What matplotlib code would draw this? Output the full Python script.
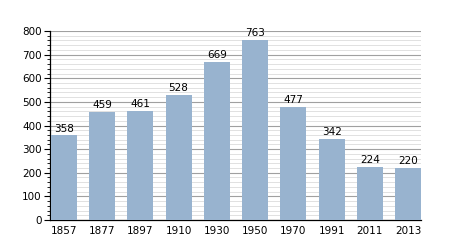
import numpy as np
import matplotlib
matplotlib.use("Agg")
import matplotlib.pyplot as plt
from matplotlib.ticker import MultipleLocator

years = ["1857", "1877", "1897", "1910", "1930", "1950", "1970", "1991", "2011", "2013"]
population = [358, 459, 461, 528, 669, 763, 477, 342, 224, 220]

fig = plt.figure(figsize=(4.5, 2.5), dpi=100)
ax = fig.add_axes([0.111, 0.12, 0.825, 0.756])

x = np.arange(len(years))
bar_w = 0.68
ax.bar(x, population, bar_w, color="#98b3cf", zorder=3)

for xi, v in zip(x, population):
    ax.text(xi, v + 8, str(v), ha="center", va="bottom", fontsize=7.5, zorder=4)

ax.set_xlim(-bar_w / 2 - 0.02, len(years) - 1 + bar_w / 2)
ax.set_ylim(0, 800)
ax.yaxis.set_major_locator(MultipleLocator(100))
ax.yaxis.set_minor_locator(MultipleLocator(20))
ax.grid(True, which="major", axis="y", color="#a0a0a0", linewidth=0.8, zorder=1)
ax.grid(True, which="minor", axis="y", color="#dcdcdc", linewidth=0.6, zorder=0)

ax.set_xticks(x)
ax.set_xticklabels(years, fontsize=7.5)
ax.tick_params(axis="x", length=0, pad=4)
ax.tick_params(axis="y", which="major", length=4, width=0.8, labelsize=7.5, pad=2)
ax.tick_params(axis="y", which="minor", length=2, width=0.6)

for s in ["top", "right"]:
    ax.spines[s].set_visible(False)
ax.spines["left"].set_linewidth(0.9)
ax.spines["bottom"].set_linewidth(0.9)

fig.savefig("out.png", dpi=100)
